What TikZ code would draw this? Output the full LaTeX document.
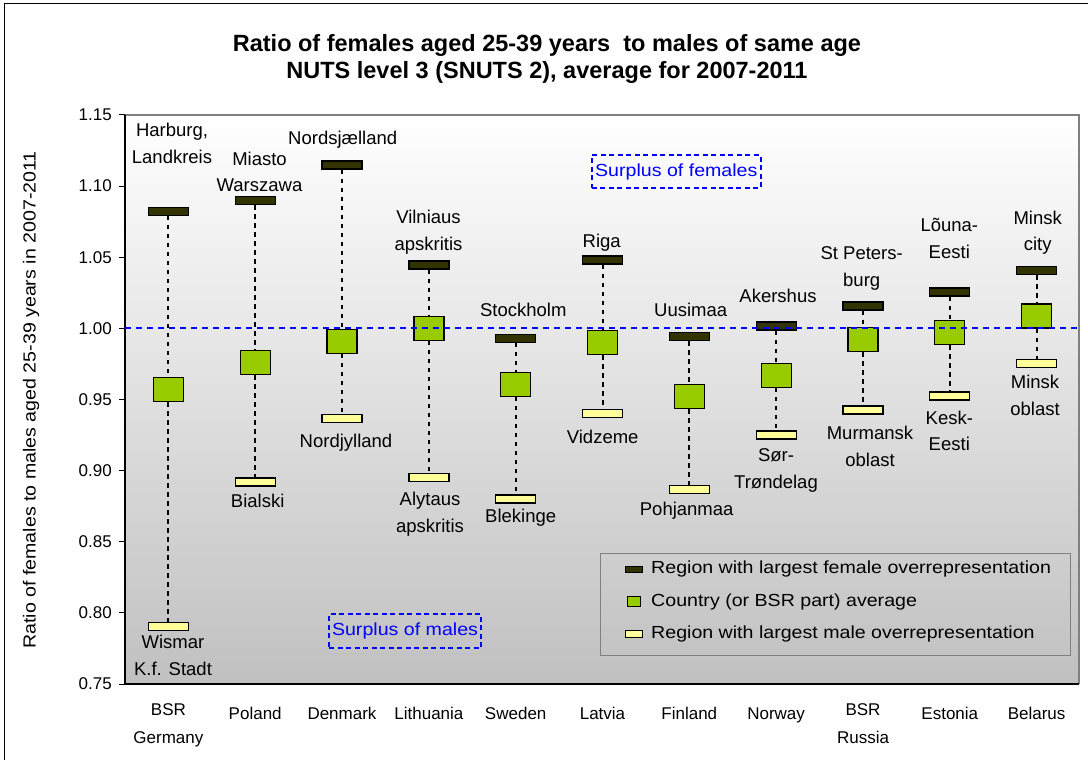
\documentclass[tikz,border=0pt]{standalone}
\usepackage{fontspec}
\setmainfont{Liberation Sans}
\newfontfamily\legfont[FakeStretch=1.12]{Liberation Sans}
\pgfdeclarelayer{bg}
\pgfdeclarelayer{mid}
\pgfsetlayers{bg,mid,main}
\definecolor{darkbar}{RGB}{51,51,0}
\definecolor{avggreen}{RGB}{153,204,0}
\definecolor{minyellow}{RGB}{255,255,153}
\definecolor{plotgray}{RGB}{192,192,192}
\definecolor{bordergray}{RGB}{128,128,128}
\tikzset{
  maxbar/.style={draw=black, line width=1.2pt, fill=darkbar, minimum width=40, minimum height=8, inner sep=0},
  avgbox/.style={draw=black, line width=1.2pt, fill=avggreen, minimum width=30, minimum height=24, inner sep=0},
  minbar/.style={draw=black, line width=1.2pt, fill=minyellow, minimum width=40, minimum height=8, inner sep=0},
  dotline/.style={black, line width=2pt, dash pattern=on 4.5pt off 4.5pt},
  lab/.style={font=\fontsize{18.5}{26.7}\selectfont, align=center, inner sep=0, yshift=-2.5pt,
    execute at begin node=\strut, execute at end node=\strut},
  catlab/.style={font=\fontsize{17}{28}\selectfont, align=center, inner sep=0, yshift=-1.5pt,
    execute at begin node=\strut, execute at end node=\strut},
  ticklab/.style={font=\fontsize{17}{20}\selectfont, anchor=east, inner sep=0},
  surplus/.style={draw=blue, line width=1.5pt, dash pattern=on 5pt off 3.5pt, text=blue, font=\legfont\fontsize{17.5}{20}\selectfont, inner sep=0},
  legtext/.style={font=\legfont\fontsize{17.5}{20}\selectfont, anchor=west, inner sep=0},
}
\newcommand\category[5]{%
  \node[maxbar] (max#1) at (#2,{115+(1.15-#3)*1422.5}) {};
  \node[avgbox] (avg#1) at (#2,{115+(1.15-#4)*1422.5}) {};
  \node[minbar] (min#1) at (#2,{115+(1.15-#5)*1422.5}) {};
  \begin{pgfonlayer}{mid}
    \draw[dotline] (max#1) -- (avg#1);
    \draw[dotline] (avg#1) -- (min#1);
  \end{pgfonlayer}
}
\begin{document}
\begin{tikzpicture}[x=1pt, y=-1pt]
\useasboundingbox (0,0) rectangle (1088,760);
\begin{pgfonlayer}{bg}
  \fill[white] (0,0) rectangle (1088,760);
  \shade[top color=white, bottom color=plotgray] (125,115) rectangle (1079,684);
\end{pgfonlayer}
% outer frame
\coordinate (fbl) at (4,760);
\coordinate (ftl) at (4,4);
\coordinate (ftr) at (1088,4);
\draw[black, line width=1pt] (fbl) -- (ftl) -- (ftr);
% plot frame
\coordinate (ptl) at (125,115);
\coordinate (ptr) at (1079,115);
\coordinate (pbr) at (1079,684);
\coordinate (pbl) at (125,684);
\draw[bordergray, line width=1.5pt] (ptl) -- (ptr) -- (pbr);
\draw[black, line width=1.2pt] (ptl) -- (pbl) -- (pbr);
% ticks
\foreach \i/\t in {0/0.75,1/0.80,2/0.85,3/0.90,4/0.95,5/1.00,6/1.05,7/1.10,8/1.15}{
  \coordinate (tk\i) at (125,{684-\i*71.125});
  \draw[black, line width=1pt] (tk\i) -- ++(-6,0);
  \node[ticklab] (tick\i) at (112,{684-\i*71.125}) {\t};
}
% title
\node[font=\bfseries\fontsize{23.5}{27}\selectfont, align=center, inner sep=0] (title) at (547,58.5)
  {Ratio of females aged 25-39 years\ \ to males of same age\\NUTS level 3 (SNUTS 2), average for 2007-2011};
% y axis title
\node[font=\legfont\fontsize{17.5}{20}\selectfont, rotate=90, inner sep=0] (ytitle) at (31,400)
  {Ratio of females to males aged 25-39 years in 2007-2011};
% data
\category{1}{168.4}{1.0823}{0.957}{0.7905}
\category{2}{255.2}{1.0898}{0.976}{0.892}
\category{3}{342.0}{1.1148}{0.991}{0.9365}
\category{4}{428.9}{1.0446}{1.000}{0.895}
\category{5}{515.7}{0.993}{0.9607}{0.880}
\category{6}{602.5}{1.048}{0.990}{0.940}
\category{7}{689.3}{0.994}{0.952}{0.887}
\category{8}{776.1}{1.0017}{0.967}{0.925}
\category{9}{863.0}{1.0157}{0.992}{0.9426}
\category{10}{949.8}{1.0256}{0.997}{0.9525}
\category{11}{1036.6}{1.0405}{1.0087}{0.9754}
% reference line
\coordinate (refL) at (125,328.4);
\coordinate (refR) at (1079,328.4);
\draw[blue, line width=2pt, dash pattern=on 6pt off 5pt] (refL) -- (refR);
% top labels
\node[lab] (t1) at (172,145) {Harburg,\\Landkreis};
\node[lab] (t2) at (259.5,173.3) {Miasto\\Warszawa};
\node[lab] (t3) at (342.7,136.7) {Nordsjælland};
\node[lab] (t4) at (428.5,231.7) {Vilniaus\\apskritis};
\node[lab] (t5) at (523.3,309) {Stockholm};
\node[lab] (t6) at (601.7,240) {Riga};
\node[lab] (t7) at (690.7,308.3) {Uusimaa};
\node[lab] (t8) at (778,295) {Akershus};
\node[lab] (t9) at (861.7,268.3) {St Peters-\\burg};
\node[lab] (t10) at (949.3,239.7) {Lõuna-\\Eesti};
\node[lab] (t11) at (1037.7,232.2) {Minsk\\city};
% bottom labels
\node[lab] (b1) at (173,656.7) {Wismar\\K.f. Stadt};
\node[lab] (b2) at (257.7,500) {Bialski};
\node[lab] (b3) at (346,440) {Nordjylland};
\node[lab] (b4) at (430,514) {Alytaus\\apskritis};
\node[lab] (b5) at (520.7,515) {Blekinge};
\node[lab] (b6) at (602.7,435.7) {Vidzeme};
\node[lab] (b7) at (686.7,507.3) {Pohjanmaa};
\node[lab] (b8) at (776,470) {Sør-\\Trøndelag};
\node[lab] (b9) at (870,448) {Murmansk\\oblast};
\node[lab] (b10) at (949.3,432.2) {Kesk-\\Eesti};
\node[lab] (b11) at (1035,396.7) {Minsk\\oblast};
% category labels
\node[catlab] (c1) at (168.4,726) {BSR\\Germany};
\node[catlab] (c2) at (255.2,712) {Poland};
\node[catlab] (c3) at (342.0,712) {Denmark};
\node[catlab] (c4) at (428.9,712) {Lithuania};
\node[catlab] (c5) at (515.7,712) {Sweden};
\node[catlab] (c6) at (602.5,712) {Latvia};
\node[catlab] (c7) at (689.3,712) {Finland};
\node[catlab] (c8) at (776.1,712) {Norway};
\node[catlab] (c9) at (863.0,726) {BSR\\Russia};
\node[catlab] (c10) at (949.8,712) {Estonia};
\node[catlab] (c11) at (1036.6,712) {Belarus};
% surplus boxes
\node[surplus, minimum width=169, minimum height=33] (sf) at (676.3,171.7) {Surplus of females};
\node[surplus, minimum width=152, minimum height=34] (sm) at (405,631) {Surplus of males};
% legend
\node[draw=bordergray, line width=1pt, minimum width=469.3, minimum height=102, inner sep=0] (leg) at (835.35,604.2) {};
\node[draw=black, line width=1pt, fill=darkbar, minimum width=17.5, minimum height=6.5, inner sep=0] (lk1) at (634,569.3) {};
\node[draw=black, line width=1pt, fill=avggreen, minimum width=13, minimum height=9.5, inner sep=0] (lk2) at (634,601.7) {};
\node[draw=black, line width=1pt, fill=minyellow, minimum width=17.5, minimum height=7, inner sep=0] (lk3) at (634,633.7) {};
\node[legtext] (lt1) at (651,569.3) {Region with largest female overrepresentation};
\node[legtext] (lt2) at (651,601.7) {Country (or BSR part) average};
\node[legtext] (lt3) at (651,633.7) {Region with largest male overrepresentation};
\end{tikzpicture}
\end{document}
